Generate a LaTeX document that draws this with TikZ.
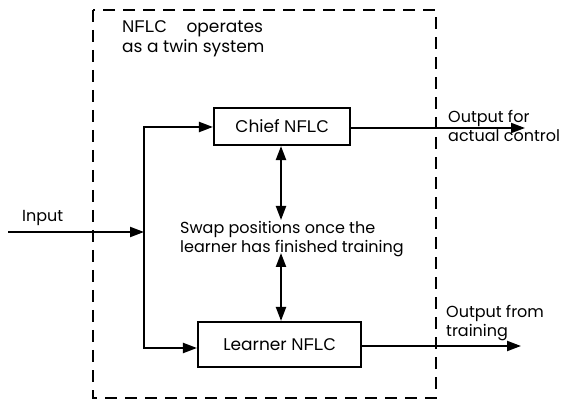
\documentclass[tikz,border=0pt]{standalone}
\usepackage{fontspec}
\setmainfont{Poppins}
\newfontfamily\nflcfont{Liberation Sans}
\usetikzlibrary{arrows.meta}
\newcommand{\nflc}{{\nflcfont NFLC}}
\tikzset{
  line/.style={line width=2.1pt},
  arr/.style={line, -{Triangle[length=14pt,width=10pt]}},
  darr/.style={line, {Triangle[length=14pt,width=10pt]}-{Triangle[length=14pt,width=10pt]}},
  block/.style={draw, line width=2.1pt, font=\fontsize{17}{20}\selectfont, inner sep=0pt},
  lbl/.style={font=\fontsize{16}{19}\selectfont, align=left, inner sep=0pt},
}
\begin{document}
\begin{tikzpicture}[x=1pt,y=-1pt]
\useasboundingbox (0,0) rectangle (565,403);
% twin system frame
\draw[line, dash pattern=on 12pt off 8pt] (93,10) rectangle (436,398);
\node[lbl, anchor=west, font=\fontsize{17}{20}\selectfont] (title) at (122,39) {\nflc\hspace{20pt}operates\\as a twin system};
% blocks
\node[block, minimum width=136pt, minimum height=37pt] (chief) at (282,126.5) {Chief \nflc};
\node[block, minimum width=163pt, minimum height=45pt] (learner) at (279.5,344.5) {Learner \nflc};
% input
\coordinate (in) at (8,232);
\coordinate (split) at (144,232);
\coordinate (top) at (144,127);
\coordinate (bot) at (144,348);
\node[lbl, anchor=west] (inlbl) at (22,218) {Input};
\draw[arr] (in) -- (split);
\draw[line] (top) -- (bot);
\draw[arr] ([xshift=-1pt]top) -- (top -| chief.west);
\draw[arr] ([xshift=-1pt]bot) -- (bot -| learner.west);
% outputs
\coordinate (out1) at (525,128);
\coordinate (out2) at (521,346);
\draw[arr] (chief.east |- out1) -- (out1);
\draw[arr] (learner.east |- out2) -- (out2);
\node[lbl, anchor=west] (o1) at (448,126) {Output for\\actual control};
\node[lbl, anchor=west] (o2) at (446,323) {Output from\\training};
% swap
\node[lbl, anchor=west] (swap) at (180,239.5) {Swap positions once the\\learner has finished training};
\coordinate (s1) at (281,220);
\coordinate (s2) at (281,253);
\draw[darr] (chief.south -| s1) -- (s1);
\draw[darr] (s2) -- (learner.north -| s2);
\end{tikzpicture}
\end{document}
